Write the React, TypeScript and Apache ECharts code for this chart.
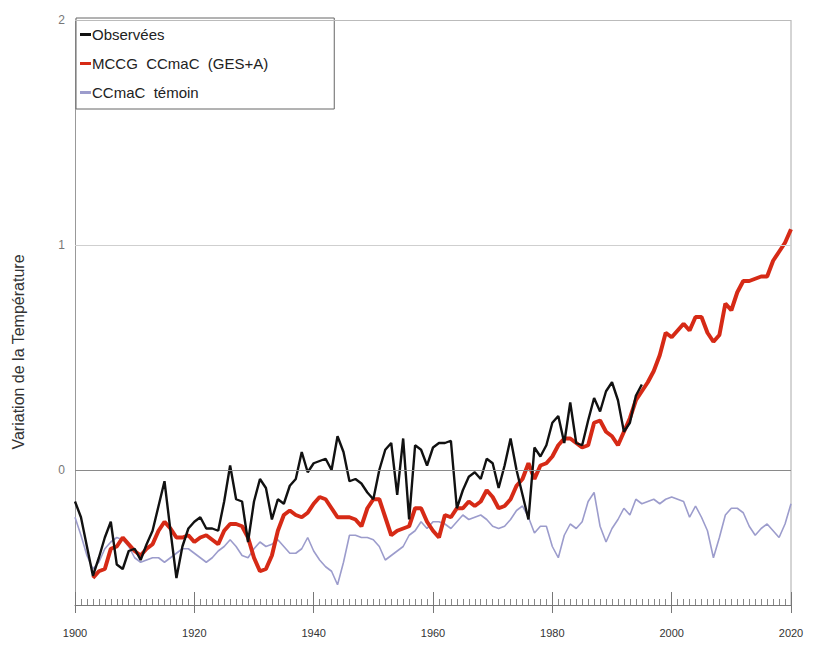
import React, { useEffect, useRef } from "react";
import * as echarts from "echarts";

const startYear = 1900;
const tickLabels = ["1900", "1920", "1940", "1960", "1980", "2000", "2020"];
const seriesNames = ["Observées", "MCCG  CCmaC  (GES+A)", "CCmaC  témoin"];

// Observed, 1900-1995
const observed = [
  -0.14, -0.21, -0.34, -0.47, -0.39, -0.30, -0.23, -0.42, -0.44, -0.36,
  -0.35, -0.40, -0.33, -0.27, -0.16, -0.05, -0.27, -0.48, -0.34, -0.26,
  -0.23, -0.21, -0.26, -0.26, -0.27, -0.14, 0.02, -0.13, -0.14, -0.32,
  -0.14, -0.04, -0.08, -0.22, -0.13, -0.15, -0.07, -0.04, 0.08, -0.01,
  0.03, 0.04, 0.05, 0.0, 0.15, 0.08, -0.05, -0.04, -0.06, -0.10,
  -0.13, 0.0, 0.09, 0.12, -0.11, 0.14, -0.22, 0.11, 0.09, 0.02,
  0.10, 0.12, 0.12, 0.13, -0.17, -0.09, -0.03, -0.01, -0.04, 0.05,
  0.03, -0.08, 0.02, 0.14, 0.0, -0.11, -0.22, 0.10, 0.06, 0.11,
  0.21, 0.24, 0.12, 0.30, 0.12, 0.11, 0.22, 0.32, 0.26, 0.35,
  0.39, 0.31, 0.17, 0.21, 0.33, 0.38,
];

// Model GES+A, 1903-2020
const modelStart = 1903;
const model = [
  -0.48, -0.45, -0.44, -0.35, -0.34, -0.30, -0.33,
  -0.36, -0.38, -0.35, -0.33, -0.27, -0.23, -0.26, -0.30, -0.30, -0.29,
  -0.32, -0.30, -0.29, -0.31, -0.33, -0.27, -0.24, -0.24, -0.25, -0.30,
  -0.39, -0.45, -0.44, -0.38, -0.27, -0.20, -0.18, -0.20, -0.21, -0.19,
  -0.15, -0.12, -0.13, -0.17, -0.21, -0.21, -0.21, -0.22, -0.25, -0.17,
  -0.13, -0.13, -0.21, -0.29, -0.27, -0.26, -0.25, -0.17, -0.17, -0.23,
  -0.27, -0.30, -0.20, -0.21, -0.17, -0.17, -0.14, -0.16, -0.14, -0.09,
  -0.12, -0.17, -0.16, -0.13, -0.07, -0.04, 0.03, -0.04, 0.02, 0.03,
  0.06, 0.11, 0.14, 0.14, 0.12, 0.10, 0.11, 0.21, 0.22, 0.17,
  0.15, 0.11, 0.17, 0.23, 0.31, 0.35, 0.39, 0.44, 0.51, 0.61,
  0.59, 0.62, 0.65, 0.62, 0.68, 0.68, 0.61, 0.57, 0.60, 0.74,
  0.71, 0.79, 0.84, 0.84, 0.85, 0.86, 0.86, 0.93, 0.97, 1.01,
  1.07,
];

// Control run, 1900-2020
const control = [
  -0.21, -0.29, -0.38, -0.44, -0.41, -0.35, -0.32, -0.30, -0.31, -0.34,
  -0.39, -0.41, -0.40, -0.39, -0.39, -0.41, -0.39, -0.37, -0.35, -0.35,
  -0.37, -0.39, -0.41, -0.39, -0.36, -0.34, -0.31, -0.34, -0.38, -0.39,
  -0.35, -0.32, -0.34, -0.33, -0.31, -0.34, -0.37, -0.37, -0.35, -0.30,
  -0.36, -0.40, -0.43, -0.45, -0.51, -0.41, -0.29, -0.29, -0.30, -0.30,
  -0.31, -0.34, -0.40, -0.38, -0.36, -0.34, -0.29, -0.27, -0.23, -0.26,
  -0.23, -0.23, -0.24, -0.26, -0.23, -0.20, -0.22, -0.21, -0.20, -0.22,
  -0.25, -0.26, -0.25, -0.22, -0.18, -0.16, -0.21, -0.28, -0.25, -0.25,
  -0.34, -0.39, -0.29, -0.24, -0.26, -0.23, -0.14, -0.10, -0.25, -0.32,
  -0.26, -0.22, -0.17, -0.20, -0.13, -0.15, -0.14, -0.13, -0.15, -0.13,
  -0.12, -0.13, -0.14, -0.21, -0.16, -0.21, -0.27, -0.39, -0.30, -0.20,
  -0.17, -0.17, -0.19, -0.25, -0.29, -0.26, -0.24, -0.27, -0.30, -0.24,
  -0.15,
];

const toPairs = (arr: number[], start: number) => arr.map((v, i) => [start + i, v]);

export default function App() {
  const ref = useRef<HTMLDivElement>(null);
  useEffect(() => {
    if (!ref.current) return;
    const chart = echarts.init(ref.current, undefined, { renderer: "svg" });
    const xMin = Number(tickLabels[0]);
    const xMax = Number(tickLabels[tickLabels.length - 1]);
    chart.setOption({
      animation: false,
      backgroundColor: "#ffffff",
      grid: { left: 75, right: 22, top: 20, bottom: 41, containLabel: false },
      legend: {
        data: seriesNames,
        orient: "vertical",
        left: 76,
        top: 18,
        padding: [9, 66, 9, 4],
        itemGap: 14,
        itemWidth: 11,
        itemHeight: 3,
        icon: "rect",
        borderColor: "#666",
        borderWidth: 1,
        backgroundColor: "#fff",
        textStyle: { fontFamily: "Liberation Sans, Arial", fontSize: 15, color: "#222", padding: [0, 0, 0, -4] },
      },
      xAxis: [
        {
          type: "value",
          min: xMin,
          max: xMax,
          interval: 20,
          axisLine: { show: true, onZero: false, lineStyle: { color: "#777", width: 1 } },
          axisTick: { show: true, inside: true, length: 13, lineStyle: { color: "#777" } },
          minorTick: { show: true, splitNumber: 20, length: 6, lineStyle: { color: "#888" } },
          axisLabel: {
            formatter: (v: number) => String(v),
            fontFamily: "Liberation Sans Narrow, Liberation Sans, Arial",
            fontSize: 11,
            color: "#333333",
            margin: 22,
          },
          splitLine: { show: false },
        },
        {
          type: "value",
          min: xMin,
          max: xMax,
          interval: 20,
          position: "bottom",
          axisLine: { show: false, onZero: false },
          axisTick: { show: true, inside: false, length: 8, lineStyle: { color: "#777" } },
          axisLabel: { show: false },
          splitLine: { show: false },
        },
      ],
      yAxis: {
        type: "value",
        min: -0.6,
        max: 2,
        interval: 0.2,
        axisLine: { show: true, lineStyle: { color: "#999" } },
        axisTick: { show: false },
        splitLine: { show: false },
        axisLabel: {
          formatter: (v: number) => (Math.abs(v - Math.round(v)) < 1e-6 ? String(Math.round(v)) : ""),
          fontFamily: "Liberation Sans, Arial",
          fontSize: 12,
          color: "#777",
          margin: 10,
        },
      },
      graphic: [
        {
          type: "line",
          shape: { x1: 791, y1: 20, x2: 791, y2: 605 },
          style: { stroke: "#aaa", lineWidth: 1 },
          z: 0,
        },
        {
          type: "text",
          x: 18,
          y: 352,
          rotation: Math.PI / 2,
          style: {
            text: "Variation de la Température",
            fontFamily: "Liberation Sans, Arial",
            fontSize: 16,
            fill: "#333",
            align: "center",
            verticalAlign: "middle",
          },
        },
      ],
      series: [
        {
          name: seriesNames[2],
          type: "line",
          data: toPairs(control, startYear),
          showSymbol: false,
          color: "#9c9ccc",
          lineStyle: { color: "#9c9ccc", width: 1.6 },
          z: 2,
          markLine: {
            silent: true,
            symbol: "none",
            label: { show: false },
            data: [
              { yAxis: 0, lineStyle: { color: "#8a8a8a", width: 1, type: "solid" } },
              { yAxis: 1, lineStyle: { color: "#cfcfcf", width: 1, type: "solid" } },
              { yAxis: 2, lineStyle: { color: "#bbbbbb", width: 1, type: "solid" } },
            ],
          },
        },
        {
          name: seriesNames[1],
          type: "line",
          data: toPairs(model, modelStart),
          showSymbol: false,
          color: "#d62a16",
          lineStyle: { color: "#d62a16", width: 4 },
          z: 3,
        },
        {
          name: seriesNames[0],
          type: "line",
          data: toPairs(observed, startYear),
          showSymbol: false,
          color: "#111111",
          lineStyle: { color: "#111111", width: 2.4 },
          z: 4,
        },
      ],
    });
    return () => chart.dispose();
  }, []);
  return (
    <div
      ref={ref}
      style={{ position: "absolute", left: 0, top: 0, width: 813, height: 646 }}
    />
  );
}
